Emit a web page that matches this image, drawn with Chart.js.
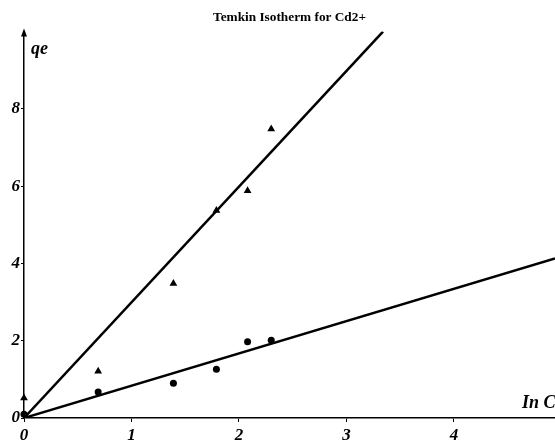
<!DOCTYPE html>
<html>
<head>
<meta charset="utf-8">
<script src="https://cdn.jsdelivr.net/npm/chart.js@4.4.1/dist/chart.umd.min.js"></script>
<style>
  html, body { margin: 0; padding: 0; background: #fff; }
  #wrap { width: 555px; height: 443px; }
</style>
</head>
<body>
<div id="wrap"><canvas id="temkin"></canvas></div>
<script>
// ln Ce values and qe readings taken off the plot
const lnCe = [0, 0.69, 1.39, 1.79, 2.08, 2.30];
const qeTriangles = [0.52, 1.21, 3.48, 5.37, 5.88, 7.48];
const qeCircles = [0.10, 0.67, 0.90, 1.26, 1.97, 2.01];

// fitted lines, as two end points each
const steepLine = [[0, 0], [3.34, 10]];
const shallowLine = [[0, 0], [4.94, 4.13]];

const xTicks = [0, 1, 2, 3, 4];
const yTicks = [0, 2, 4, 6, 8];

const toPoints = (xs, ys) => xs.map((x, i) => ({ x: x, y: ys[i] }));
const pairPoints = arr => arr.map(p => ({ x: p[0], y: p[1] }));

const tickFont = { family: 'Liberation Serif', size: 17, style: 'italic', weight: 'bold' };

// arrow on y axis and the two axis labels
const axisDecor = {
  id: 'axisDecor',
  afterDraw(chart) {
    const { ctx, chartArea } = chart;
    const x0 = chart.scales.x.getPixelForValue(0);
    ctx.save();
    ctx.fillStyle = '#000';
    ctx.beginPath();
    ctx.moveTo(x0, chartArea.top - 3);
    ctx.lineTo(x0 - 3, chartArea.top + 5);
    ctx.lineTo(x0 + 3, chartArea.top + 5);
    ctx.closePath();
    ctx.fill();

    ctx.font = 'italic bold 18px "Liberation Serif"';
    ctx.textBaseline = 'alphabetic';
    ctx.textAlign = 'left';
    ctx.fillText('qe', x0 + 7, chartArea.top + 22);
    ctx.fillText('In Ce', 522, chartArea.bottom - 10);
    ctx.restore();
  }
};

new Chart(document.getElementById('temkin'), {
  type: 'scatter',
  data: {
    datasets: [
      {
        type: 'line',
        data: pairPoints(steepLine),
        borderColor: '#000',
        borderWidth: 2.5,
        pointRadius: 0,
        fill: false
      },
      {
        type: 'line',
        data: pairPoints(shallowLine),
        borderColor: '#000',
        borderWidth: 2.5,
        pointRadius: 0,
        fill: false
      },
      {
        data: toPoints(lnCe, qeTriangles),
        pointStyle: 'triangle',
        pointRadius: 4.5,
        backgroundColor: '#000',
        borderColor: '#000',
        borderWidth: 0,
        clip: false
      },
      {
        data: toPoints(lnCe, qeCircles),
        pointStyle: 'circle',
        pointRadius: 3.5,
        backgroundColor: '#000',
        borderColor: '#000',
        borderWidth: 0,
        clip: false
      }
    ]
  },
  options: {
    responsive: true,
    maintainAspectRatio: false,
    animation: false,
    layout: { padding: 0, autoPadding: false },
    plugins: {
      legend: { display: false },
      tooltip: { enabled: false },
      title: {
        display: true,
        fullSize: false,
        text: 'Temkin Isotherm for Cd2+',
        color: '#000',
        font: { family: 'Liberation Serif', size: 13.3, weight: 'bold' },
        padding: { top: 10, bottom: 5.6 }
      }
    },
    scales: {
      x: {
        type: 'linear',
        min: 0,
        max: 4.94,
        afterBuildTicks: s => { s.ticks = xTicks.map(v => ({ value: v })); },
        afterFit: s => { s.height = 25; s.paddingRight = 0; s.paddingLeft = 0; },
        grid: { drawOnChartArea: false, drawTicks: true, tickLength: 4, color: '#000' },
        border: { display: true, color: '#000', width: 1.5 },
        ticks: { color: '#000', font: tickFont, padding: 3, maxRotation: 0 }
      },
      y: {
        type: 'linear',
        min: 0,
        max: 10,
        afterBuildTicks: s => { s.ticks = yTicks.map(v => ({ value: v })); },
        afterFit: s => { s.width = 24; },
        grid: { drawOnChartArea: false, drawTicks: true, tickLength: 3, color: '#000' },
        border: { display: true, color: '#000', width: 1.5 },
        ticks: { color: '#000', font: tickFont, padding: 1 }
      }
    }
  },
  plugins: [axisDecor]
});
</script>
</body>
</html>
